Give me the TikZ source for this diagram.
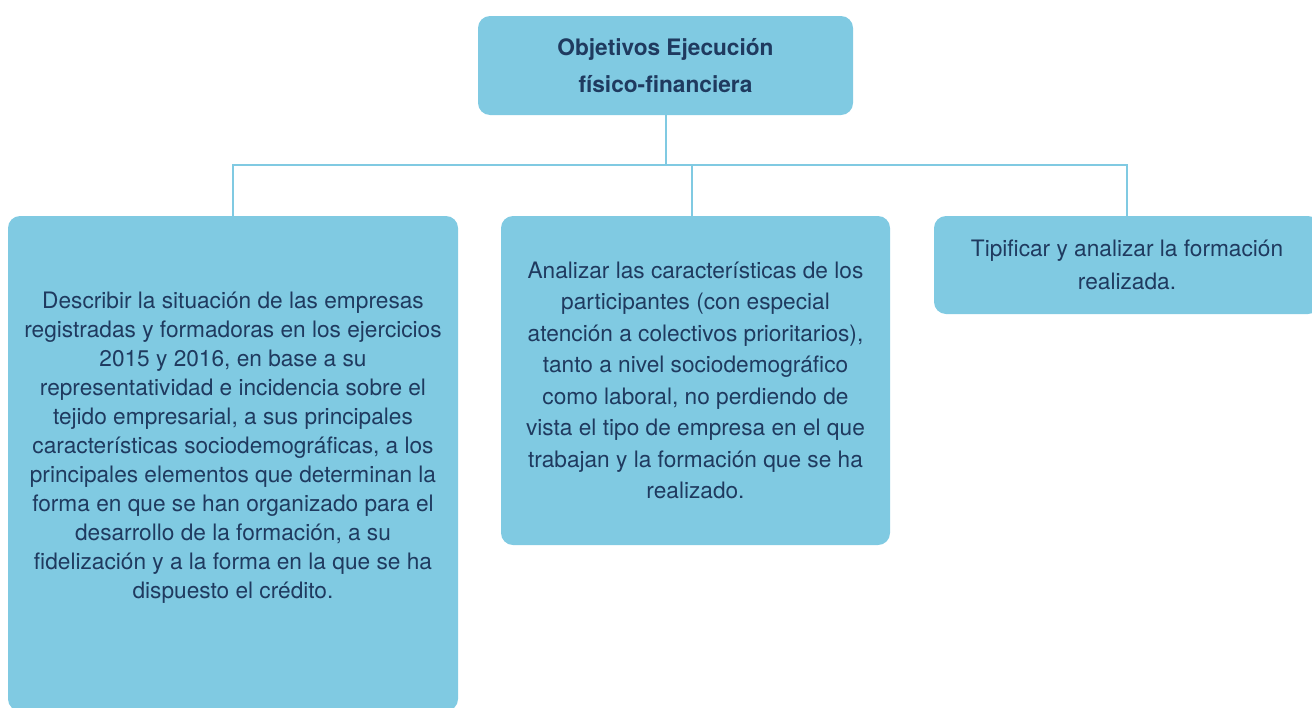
\documentclass[tikz,border=0pt]{standalone}
\usepackage{fontspec}
\setmainfont{TeX Gyre Heros}
\definecolor{cajaazul}{HTML}{80CAE2}
\definecolor{textoazul}{HTML}{1F3A5F}
\tikzset{
	caja/.style={fill=cajaazul, rounded corners=9pt, inner sep=0pt, align=center,
		text=textoazul, font=\fontsize{17}{21.75}\selectfont},
	texto/.style={inner sep=0pt, align=center, text=textoazul, font=\fontsize{17}{21.75}\selectfont},
	linea/.style={draw=cajaazul, line width=1.5pt},
}

\begin{document}
\begin{tikzpicture}[x=0.75pt, y=-0.75pt]
	\useasboundingbox (0,0) rectangle (1312,707);
	\clip (0,0) rectangle (1312,707);
	\node[caja, minimum width=281.25pt, minimum height=74.25pt, font=\fontsize{17}{27.75}\selectfont\bfseries] (obj) at (665.5,65.5) {Objetivos Ejecución\\físico-financiera};
	\node[caja, minimum width=337.5pt, minimum height=371.25pt] (desc) at (233,463.5) {};
	\node[texto] (desctexto) at (233,448) {Describir la situación de las empresas\\registradas y formadoras en los ejercicios\\2015 y 2016, en base a su\\representatividad e incidencia sobre el\\tejido empresarial, a sus principales\\características sociodemográficas, a los\\principales elementos que determinan la\\forma en que se han organizado para el\\desarrollo de la formación, a su\\fidelización y a la forma en la que se ha\\dispuesto el crédito.};
	\node[caja, minimum width=291.75pt, minimum height=246.75pt, font=\fontsize{17}{23.6}\selectfont] (anal) at (695.5,380.5) {Analizar las características de los\\participantes (con especial\\atención a colectivos prioritarios),\\tanto a nivel sociodemográfico\\como laboral, no perdiendo de\\vista el tipo de empresa en el que\\trabajan y la formación que se ha\\realizado.};
	\node[caja, minimum width=289.5pt, minimum height=73.5pt, font=\fontsize{17}{24.75}\selectfont] (tipi) at (1127,265) {Tipificar y analizar la formación\\realizada.};
	\coordinate (bus) at (665.5,165);
	\draw[linea] (obj.south) -- (bus);
	\draw[linea] (desc.north) |- (bus) -| (tipi.north);
	\draw[linea] ([xshift=-2.6pt]anal.north) -- ([xshift=-2.6pt]anal.north |- bus);
\end{tikzpicture}
\end{document}
